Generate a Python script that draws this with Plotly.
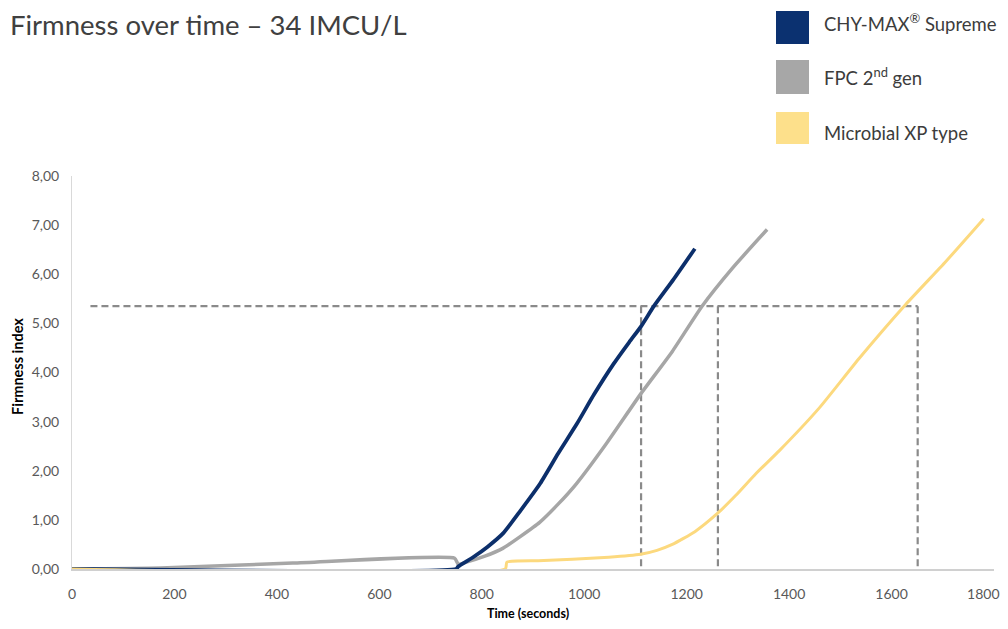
import plotly.graph_objects as go

# ---- data ----
navy_t = [0, 750, 754, 783, 811, 842, 875, 914, 949, 986, 1019, 1057, 1088, 1111, 1136, 1174, 1216]
navy_v = [0, 0, 0.05, 0.24, 0.45, 0.73, 1.18, 1.74, 2.35, 2.96, 3.55, 4.17, 4.62, 4.94, 5.35, 5.89, 6.52]

grey_t = [0, 173, 431, 747, 754, 770, 806, 841, 875, 913, 949, 985, 1043, 1110, 1172, 1230, 1289, 1357]
grey_v = [0, 0.02, 0.12, 0.22, 0.10, 0.14, 0.26, 0.42, 0.66, 0.95, 1.32, 1.74, 2.55, 3.56, 4.43, 5.35, 6.12, 6.91]

yellow_t = [0, 846, 849, 910, 977, 1048, 1110, 1142, 1172, 1216, 1260, 1296, 1335, 1381, 1459, 1537, 1628, 1706, 1780]
yellow_v = [0, 0, 0.14, 0.17, 0.20, 0.24, 0.30, 0.38, 0.50, 0.76, 1.13, 1.50, 1.94, 2.41, 3.28, 4.29, 5.39, 6.26, 7.13]

ref_level = 5.35
ref_start = 36
ref_times = [1111, 1261, 1651]

series_names = ["CHY-MAX<sup>®</sup> Supreme", "FPC 2<sup>nd</sup> gen", "Microbial XP type"]
series_colors = ["#0c2f6b", "#a6a6a6", "#fcd97e"]
legend_colors = ["#0b3170", "#a7a7a7", "#fde08b"]

x_tickvals = [0, 200, 400, 600, 800, 1000, 1200, 1400, 1600, 1800]
# last label padded with no-break spaces so it stays inside the page edge
x_ticktext = ["0", "200", "400", "600", "800", "1000", "1200", "1400", "1600", "1800\u00a0\u00a0\u00a0\u00a0\u00a0\u00a0"]
y_tickvals = [0, 1, 2, 3, 4, 5, 6, 7, 8]
y_ticktext = ["0,00", "1,00", "2,00", "3,00", "4,00", "5,00", "6,00", "7,00", "8,00"]

title_text = "Firmness over time – 34 IMCU/L"
x_title = "Time (seconds)"
y_title = "Firmness index"

# ---- figure (page has an 8px body margin, so figure coords = page coords - 8) ----
W, H = 992, 613
L, R, T, B = 64, 6, 168, 52

fig = go.Figure()

dash_line = dict(color="#8a8a8a", width=2.2, dash="7px,4px")
fig.add_trace(go.Scatter(x=[ref_start, ref_times[-1]], y=[ref_level, ref_level], mode="lines",
                         line=dash_line, showlegend=False, hoverinfo="skip"))
for t in ref_times:
    fig.add_trace(go.Scatter(x=[t, t], y=[ref_level, 0], mode="lines",
                             line=dash_line, showlegend=False, hoverinfo="skip"))

fig.add_trace(go.Scatter(x=grey_t, y=grey_v, mode="lines",
                         line=dict(color=series_colors[1], width=3.5, shape="spline", smoothing=0.5),
                         showlegend=False))
fig.add_trace(go.Scatter(x=navy_t, y=navy_v, mode="lines",
                         line=dict(color=series_colors[0], width=3.8, shape="spline", smoothing=0.5),
                         showlegend=False))
fig.add_trace(go.Scatter(x=yellow_t, y=yellow_v, mode="lines",
                         line=dict(color=series_colors[2], width=3, shape="spline", smoothing=0.5),
                         showlegend=False))

font = "Lato, 'Open Sans', sans-serif"

fig.update_layout(
    width=W, height=H,
    margin=dict(l=L, r=R, t=T, b=B, autoexpand=False),
    paper_bgcolor="white", plot_bgcolor="white",
    font=dict(family=font, color="#595959", size=14),
    title=dict(text=title_text, x=2 / W, xanchor="left", xref="container",
               y=1 - 17.5 / H, yanchor="middle", yref="container",
               font=dict(size=27.5, color="#404040", family=font)),
    xaxis=dict(range=[0, 1800], tickvals=x_tickvals, ticktext=x_ticktext, showgrid=False, zeroline=False,
               showline=True, linecolor="#d0d0d0", linewidth=1.5, ticks="",
               ticklabelstandoff=11, automargin=False, ticklabeloverflow="allow",
               tickfont=dict(size=14, color="#595959")),
    yaxis=dict(range=[0, 8], tickvals=y_tickvals, ticktext=y_ticktext, showgrid=False, zeroline=False,
               showline=True, linecolor="#d9d9d9", linewidth=1, ticks="",
               ticklabelstandoff=9, automargin=False, ticklabeloverflow="allow",
               tickfont=dict(size=14, color="#595959")),
    showlegend=False,
)

def px_x(fx):
    return (fx - L) / (W - L - R)

def px_y(fy):
    return (H - B - fy) / (H - T - B)

# axis titles
fig.add_annotation(xref="paper", yref="paper", x=px_x(519.5), y=px_y(605.5), showarrow=False,
                   text="<b>" + x_title + "</b>", xanchor="center", yanchor="middle",
                   font=dict(size=12.5, color="#000000", family=font))
fig.add_annotation(xref="paper", yref="paper", x=px_x(9), y=px_y(359), showarrow=False, textangle=-90,
                   text="<b>" + y_title + "</b>", xanchor="center", yanchor="middle",
                   font=dict(size=14.5, color="#000000", family=font))

# custom legend (squares + labels) at top right
legend_rows = [(3, 36), (52, 86), (104, 136)]
legend_text_y = [15, 69, 125]
for (y0, y1), ty, col, name in zip(legend_rows, legend_text_y, legend_colors, series_names):
    fig.add_shape(type="rect", xref="paper", yref="paper",
                  x0=px_x(768), x1=px_x(801), y0=px_y(y1), y1=px_y(y0),
                  fillcolor=col, line=dict(width=0))
    fig.add_annotation(xref="paper", yref="paper", x=px_x(814), y=px_y(ty),
                       xanchor="left", yanchor="middle", showarrow=False, text=name,
                       font=dict(size=18.5, color="#3c3c3c", family=font))

fig.write_html("out.html")
